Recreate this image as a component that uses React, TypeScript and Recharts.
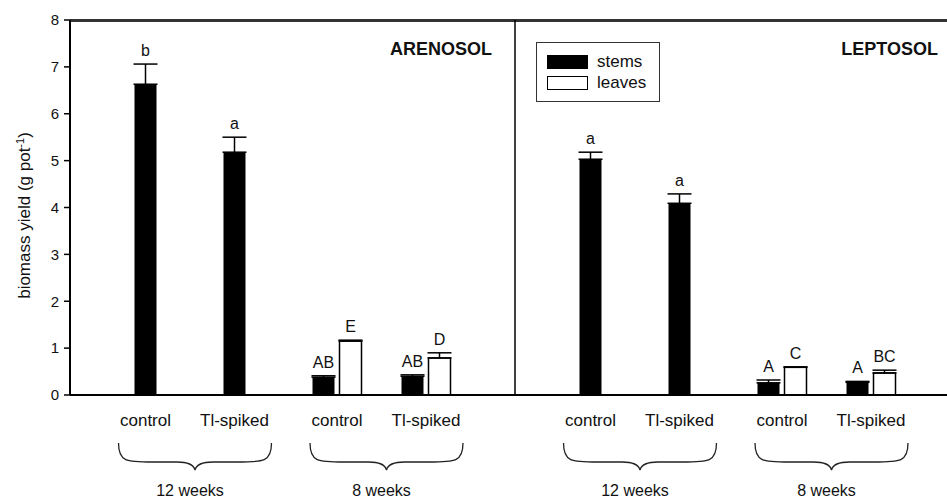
import React from 'react'
import {
  BarChart,
  Bar,
  XAxis,
  YAxis,
  ErrorBar,
  LabelList,
  ReferenceLine,
  Legend,
} from 'recharts'

const ids = ['a12c', 'a12t', 'a8c', 'a8t', 'gap', 'l12c', 'l12t', 'l8c', 'l8t']
const tickLabels = ['control', 'Tl-spiked', 'control', 'Tl-spiked', '', 'control', 'Tl-spiked', 'control', 'Tl-spiked']
const weekLabels = ['', '12 weeks', '', '8 weeks', '', '', '12 weeks', '', '8 weeks']
const panelTitles = ['ARENOSOL', 'LEPTOSOL']
const seriesOrder = ['stems', 'leaves']

const stems = [6.63, 5.18, 0.38, 0.4, null, 5.03, 4.09, 0.26, 0.27]
const stemsErr = [0.43, 0.32, 0.03, 0.03, null, 0.15, 0.2, 0.06, 0.02]
const stemsLetters = ['b', 'a', 'AB', 'AB', '', 'a', 'a', 'A', 'A']

const leaves = [null, null, 1.15, 0.79, null, null, null, 0.59, 0.47]
const leavesErr = [null, null, 0.02, 0.11, null, null, null, 0.01, 0.06]
const leavesLetters = ['', '', 'E', 'D', '', '', '', 'C', 'BC']

const yTicks = [0, 1, 2, 3, 4, 5, 6, 7, 8]
const yTop = 8

const data = ids.map((id, i) => ({
  id,
  stems: stems[i],
  stemsErr: stemsErr[i] == null ? null : [0, stemsErr[i]],
  stemsLetter: stemsLetters[i],
  leaves: leaves[i],
  leavesErr: leavesErr[i] == null ? null : [0, leavesErr[i]],
  leavesLetter: leavesLetters[i],
}))

const BAR_SIZE = 22
const BAR_GAP = 5
const FONT = '"Liberation Sans", Arial, Helvetica, sans-serif'

const tickShift = (i: number) => (leaves[i] == null ? -(BAR_SIZE + BAR_GAP) / 2 : 0)

const XTick = (props: any) => {
  const { x, y, payload } = props
  const i = payload.index ?? props.index
  const half = payload.offset ?? 44.5
  const lx = x + tickShift(i)
  const week = weekLabels[i]
  let brace = null
  if (week) {
    const px = x - 2 * half + tickShift(i - 1)
    const mid = (lx + px) / 2
    const cx = mid + 5
    const w = 76.5
    const top = y + 48
    const bot = top + 27
    const m = top + 19
    const d =
      `M${cx - w},${top} C${cx - w},${m} ${cx - w + 8},${m} ${cx - w + 34},${m} ` +
      `L${cx - 18},${m} Q${cx - 2},${m} ${cx},${bot} Q${cx + 2},${m} ${cx + 18},${m} ` +
      `L${cx + w - 34},${m} C${cx + w - 8},${m} ${cx + w},${m} ${cx + w},${top}`
    brace = (
      <g>
        <path d={d} fill="none" stroke="#222" strokeWidth={1.3} />
        <text x={mid} y={y + 101} textAnchor="middle" fontSize={16} fill="#111" fontFamily={FONT}>
          {week}
        </text>
      </g>
    )
  }
  return (
    <g>
      <text x={lx} y={y + 31} textAnchor="middle" fontSize={17} fill="#111" fontFamily={FONT}>
        {tickLabels[i]}
      </text>
      {brace}
    </g>
  )
}

// label value carries "letter|value|error" so the text can sit above the error cap
const letterKey = (letterK: string, valK: string, errK: string) => (d: any) =>
  d[valK] == null || !d[letterK] ? '' : `${d[letterK]}|${d[valK]}|${d[errK] ? d[errK][1] : 0}`

const Letter = (props: any) => {
  const { x, y, width, height, value } = props
  if (!value) return null
  const [letter, vs, es] = String(value).split('|')
  const v = Number(vs)
  const e = Number(es)
  const errPx = v > 0 ? (e * height) / v : 0
  return (
    <text x={x + width / 2} y={y - errPx - 8} textAnchor="middle" fontSize={16} fill="#111" fontFamily={FONT}>
      {letter}
    </text>
  )
}

const YLabel = (props: any) => {
  const vb = props.viewBox
  const cx = vb.x + 22
  const cy = vb.y + vb.height / 2 + 8
  return (
    <text x={cx} y={cy} transform={`rotate(-90, ${cx}, ${cy})`} textAnchor="middle" fontSize={17} fill="#111" fontFamily={FONT}>
      biomass yield (g pot
      <tspan dy={-6} fontSize={11}>-1</tspan>
      <tspan dy={6}>)</tspan>
    </text>
  )
}

const LeftTitle = (props: any) => {
  const vb = props.viewBox
  return (
    <text x={vb.x - 23} y={vb.y + 35} textAnchor="end" fontSize={18} fontWeight="bold" fill="#111" fontFamily={FONT}>
      {panelTitles[0]}
    </text>
  )
}

// top frame (kept just inside the plot box) and right panel title
const TopFrame = (props: any) => {
  const vb = props.viewBox
  return (
    <g>
      <rect x={vb.x} y={vb.y} width={vb.width} height={2} fill="#333" />
      <text x={vb.x + vb.width - 22} y={vb.y + 35} textAnchor="end" fontSize={18} fontWeight="bold" fill="#111" fontFamily={FONT}>
        {panelTitles[1]}
      </text>
    </g>
  )
}

const LegendBox = (props: any) => {
  const items = [...(props.payload || [])].sort(
    (a: any, b: any) => seriesOrder.indexOf(a.value) - seriesOrder.indexOf(b.value)
  )
  return (
    <div style={{ border: '1px solid #333', padding: '8px 10px', background: '#fff', fontFamily: FONT, fontSize: 17, color: '#111' }}>
      {items.map((it: any) => (
        <div key={it.value} style={{ display: 'flex', alignItems: 'center', height: 21 }}>
          <svg width={41} height={14} style={{ marginRight: 9 }}>
            <rect x={0.5} y={0.5} width={40} height={13} fill={it.color} stroke="#000" />
          </svg>
          <span>{it.value}</span>
        </div>
      ))}
    </div>
  )
}

const App = () => {
  return (
    <div style={{ position: 'absolute', left: 0, top: 0, width: 947, height: 499, overflow: 'hidden', background: '#fff' }}>
      <BarChart
        width={960}
        height={505}
        data={data}
        margin={{ top: 20, right: 0, left: 8, bottom: 0 }}
        barSize={BAR_SIZE}
        barGap={BAR_GAP}
        style={{ fontFamily: FONT }}
      >
        <XAxis
          dataKey="id"
          height={110}
          interval={0}
          padding={{ left: 44.5, right: 44.5 }}
          tickLine={false}
          tickSize={0}
          tickMargin={0}
          axisLine={{ stroke: '#000', strokeWidth: 2 }}
          tick={<XTick />}
        />
        <YAxis
          domain={[0, yTop]}
          ticks={yTicks}
          width={62}
          tickSize={6}
          tickMargin={5}
          axisLine={{ stroke: '#000', strokeWidth: 2 }}
          tickLine={{ stroke: '#000', strokeWidth: 1.5 }}
          tick={{ fontSize: 15, fill: '#111', fontFamily: FONT }}
          label={{ content: <YLabel /> }}
        />
        <ReferenceLine y={yTop} stroke="#333" strokeWidth={2} ifOverflow="visible" label={{ content: <TopFrame /> }} />
        <ReferenceLine x="gap" stroke="#000" strokeWidth={1.5} ifOverflow="visible" label={{ content: <LeftTitle /> }} />
        <Legend
          layout="vertical"
          align="center"
          verticalAlign="middle"
          wrapperStyle={{ left: 536, top: 42, width: 124 }}
          content={<LegendBox />}
        />
        <Bar dataKey="stems" name="stems" fill="#000" isAnimationActive={false}>
          <ErrorBar dataKey="stemsErr" width={12} stroke="#000" strokeWidth={1.5} direction="y" />
          <LabelList dataKey={letterKey('stemsLetter', 'stems', 'stemsErr')} content={<Letter />} />
        </Bar>
        <Bar dataKey="leaves" name="leaves" fill="#fff" stroke="#000" strokeWidth={1.5} isAnimationActive={false}>
          <ErrorBar dataKey="leavesErr" width={12} stroke="#000" strokeWidth={1.5} direction="y" />
          <LabelList dataKey={letterKey('leavesLetter', 'leaves', 'leavesErr')} content={<Letter />} />
        </Bar>
      </BarChart>
    </div>
  )
}

export default App
